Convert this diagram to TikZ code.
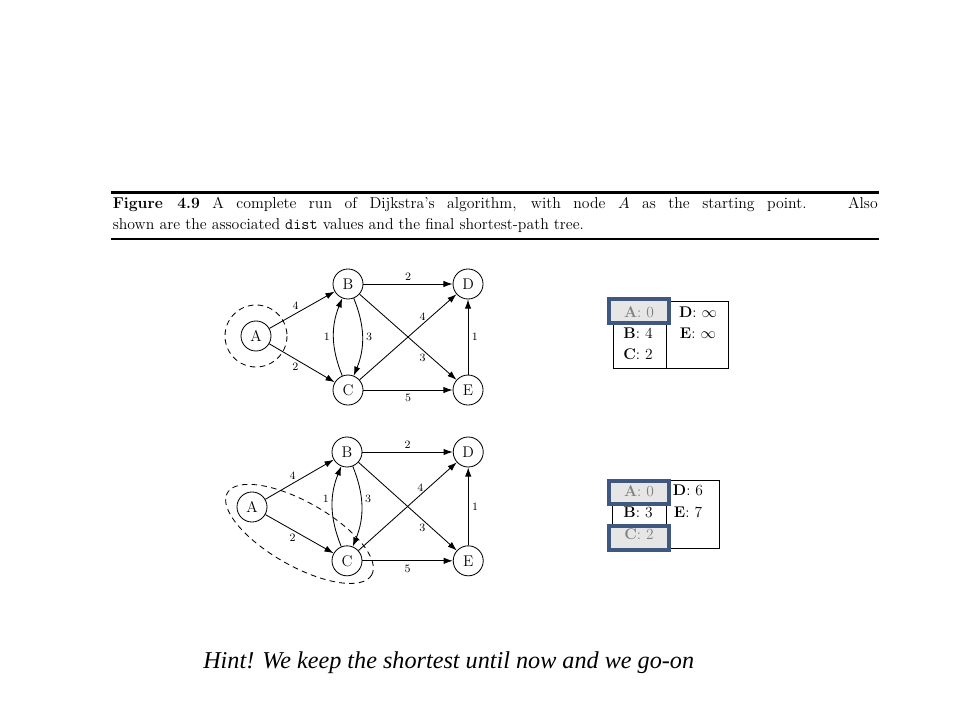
\documentclass[tikz,border=0pt]{standalone}
\usepackage{fontspec}
\newfontfamily\hintfont{Liberation Serif}
\usetikzlibrary{positioning, arrows.meta}

\definecolor{markblue}{RGB}{62,88,128}
\definecolor{markgray}{RGB}{230,230,230}

\tikzset{
  vertex/.style={circle, draw, line width=0.6pt, minimum size=0.75cm, inner sep=0pt,
    font=\fontsize{11}{11}\selectfont},
  link/.style={-{Latex[length=6.5pt,width=4.5pt]}, line width=0.6pt},
  wt/.style={font=\fontsize{8}{8}\selectfont, inner sep=2.5pt},
  cell/.style={font=\fontsize{11}{11}\selectfont, inner sep=0pt},
  markbox/.style={draw=markblue, line width=2.2pt, fill=markgray},
  cutline/.style={dashed, dash pattern=on 4pt off 3pt, line width=0.6pt},
}

\begin{document}
\begin{tikzpicture}[x=0.025cm, y=-0.025cm]
\useasboundingbox (0,0) rectangle (960,720);

% caption
\draw[line width=1.6pt] (111,192.5) coordinate (rt1) -- (879,192.5) coordinate (rt2);
\draw[line width=1.6pt] (111,239) coordinate (rb1) -- (879,239) coordinate (rb2);
\node[anchor=base west, inner sep=0pt, font=\fontsize{11.2}{11.2}\selectfont] (cap1) at (112.5,209)
  {\makebox[544pt][s]{\textbf{Figure 4.9} A complete run of Dijkstra’s algorithm, with node $A$ as the starting point. \ Also}};
\node[anchor=base west, inner sep=0pt, font=\fontsize{11.2}{11.2}\selectfont] (cap2) at (112.5,229.5)
  {shown are the associated \texttt{dist} values and the final shortest-path tree.};

% first graph
\node[vertex] (b1) at (348,284) {B};
\node[vertex, right of=b1, node distance=3cm] (d1) {D};
\node[vertex, below of=b1, node distance=2.65cm] (c1) {C};
\node[vertex, below of=d1, node distance=2.65cm] (e1) {E};
\node[vertex] (a1) at (256,336) {A};

\draw
    (a1) edge[link] node[wt, pos=0.4, above] {4} (b1)
    (a1) edge[link] node[wt, pos=0.4, below] {2} (c1)
    (b1) edge[link] node[wt, above] {2} (d1)
    (c1) edge[link, bend left=22] node[wt, left] {1} (b1)
    (b1) edge[link, bend left=22] node[wt, right] {3} (c1)
    (c1) edge[link] node[wt, pos=0.65, above] {4} (d1)
    (b1) edge[link] node[wt, pos=0.65, below] {3} (e1)
    (c1) edge[link] node[wt, below] {5} (e1)
    (e1) edge[link] node[wt, right] {1} (d1)
    ;
\draw[cutline] (a1) circle[radius=31];

% second graph
\node[vertex] (b2) at (347,452) {B};
\node[vertex, right of=b2, node distance=3.03cm] (d2) {D};
\node[vertex, below of=b2, node distance=2.72cm] (c2) {C};
\node[vertex, below of=d2, node distance=2.72cm] (e2) {E};
\node[vertex] (a2) at (252,507) {A};

\draw
    (a2) edge[link] node[wt, pos=0.4, above] {4} (b2)
    (a2) edge[link] node[wt, pos=0.4, below] {2} (c2)
    (b2) edge[link] node[wt, above] {2} (d2)
    (c2) edge[link, bend left=22] node[wt, pos=0.6, left] {1} (b2)
    (b2) edge[link, bend left=22] node[wt, pos=0.4, right] {3} (c2)
    (c2) edge[link] node[wt, pos=0.63, above] {4} (d2)
    (b2) edge[link] node[wt, pos=0.65, below] {3} (e2)
    (c2) edge[link] node[wt, below] {5} (e2)
    (e2) edge[link] node[wt, right] {1} (d2)
    ;
\path (a2) -- (c2) coordinate[midway] (ac2);
\draw[cutline, shift={(ac2)}, rotate=-29.6] (0,0) ellipse[x radius=83, y radius=32];

% first dist table
\draw[line width=0.7pt] (613,301) rectangle (728,368);
\draw[line width=0.7pt] (666,301) -- (666,368);
\draw[markbox] (609,299) rectangle (669,323);
\node[cell] (ta1) at (639,312) {\textcolor{gray}{\textbf{A}: 0}};
\node[cell] (tb1) at (638,333) {\textbf{B}: 4};
\node[cell] (tc1) at (638,354) {\textbf{C}: 2};
\node[cell] (td1) at (698,312) {\textbf{D}: $\infty$};
\node[cell] (te1) at (698,333) {\textbf{E}: $\infty$};

% second dist table
\draw[line width=0.7pt] (612,480) rectangle (719,548);
\draw[line width=0.7pt] (666,480) -- (666,548);
\draw[markbox] (609,481) rectangle (669,504);
\draw[markbox] (609,526) rectangle (669,550);
\node[cell] (ta2) at (639,491) {\textcolor{gray}{\textbf{A}: 0}};
\node[cell] (tb2) at (638,512) {\textbf{B}: 3};
\node[cell] (tc2) at (639,534) {\textcolor{gray}{\textbf{C}: 2}};
\node[cell] (td2) at (688,490) {\textbf{D}: 6};
\node[cell] (te2) at (688,512) {\textbf{E}: 7};

% hint
\node[anchor=base west, inner sep=0pt, font=\hintfont\itshape\fontsize{17.2}{17.2}\selectfont] (hint) at (203,668)
  {Hint! We keep the shortest until now and we go-on};
\end{tikzpicture}
\end{document}
